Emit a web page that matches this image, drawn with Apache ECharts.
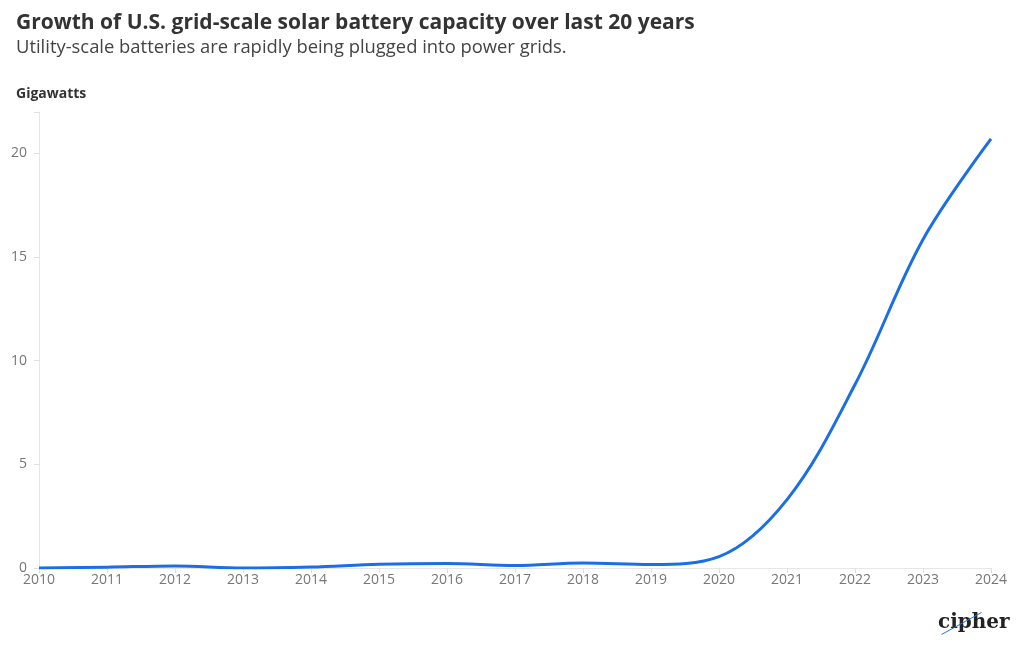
<!DOCTYPE html>
<html>
<head>
<meta charset="utf-8">
<script src="https://cdn.jsdelivr.net/npm/echarts@6/dist/echarts.min.js"></script>
<style>
html,body{margin:0;padding:0;background:#fff;}
#c{width:1020px;height:650px;}
</style>
</head>
<body>
<div id="c"></div>
<script>
var years = [2010, 2011, 2012, 2013, 2014, 2015, 2016, 2017, 2018, 2019, 2020, 2021, 2022, 2023, 2024];
var capacityGW = [0.0, 0.04, 0.1, 0.0, 0.05, 0.18, 0.22, 0.12, 0.24, 0.17, 0.55, 3.3, 8.85, 15.85, 20.7];
var yTicks = [0, 5, 10, 15, 20];

var chart = echarts.init(document.getElementById('c'));
var txtFont = '"Open Sans", Roboto, sans-serif';
chart.setOption({
  animation: false,
  backgroundColor: '#ffffff',
  title: [
    {text: 'Growth of U.S. grid-scale solar battery capacity over last 20 years', left: 11, top: 8,
     textStyle: {fontFamily: txtFont, fontWeight: 'bold', fontSize: 21, color: '#333333'}},
    {text: 'Utility-scale batteries are rapidly being plugged into power grids.', left: 11, top: 34,
     textStyle: {fontFamily: txtFont, fontWeight: 'normal', fontSize: 18.4, color: '#444444'}},
    {text: 'Gigawatts', left: 11, top: 82,
     textStyle: {fontFamily: txtFont, fontWeight: 'bold', fontSize: 14, color: '#333333'}}
  ],
  grid: {left: 39, right: 29, top: 112, bottom: 82},
  xAxis: {
    type: 'value', min: 2010, max: 2024, interval: 1,
    axisLine: {show: true, lineStyle: {color: '#e6e6e6'}},
    axisTick: {show: true, length: 5, lineStyle: {color: '#e0e0e0'}},
    splitLine: {show: false},
    axisLabel: {color: '#777777', fontSize: 14, fontFamily: txtFont, margin: 5,
      formatter: function (v) { return String(v); }}
  },
  yAxis: {
    type: 'value', min: 0, max: 22, interval: 5,
    axisLine: {show: true, lineStyle: {color: '#e6e6e6'}},
    axisTick: {show: true, length: 5, lineStyle: {color: '#e0e0e0'}},
    splitLine: {show: false},
    axisLabel: {color: '#777777', fontSize: 14, fontFamily: txtFont, margin: 12,
      formatter: function (v) { return yTicks.indexOf(v) >= 0 ? String(v) : ''; }}
  },
  series: [{
    type: 'line',
    data: years.map(function (y, i) { return [y, capacityGW[i]]; }),
    smooth: 0.35,
    showSymbol: false,
    lineStyle: {color: '#1a6fe3', width: 3},
    itemStyle: {color: '#1a6fe3'}
  }],
  graphic: [
    {type: 'text', left: 938, top: 613,
     style: {text: 'cipher', font: 'bold 20px "DejaVu Serif", serif', fill: '#222222'}},
    {type: 'line', left: 939, top: 610, shape: {x1: 0, y1: 22, x2: 40, y2: 0},
     style: {stroke: '#2a6fd8', lineWidth: 1}}
  ]
});
</script>
</body>
</html>
